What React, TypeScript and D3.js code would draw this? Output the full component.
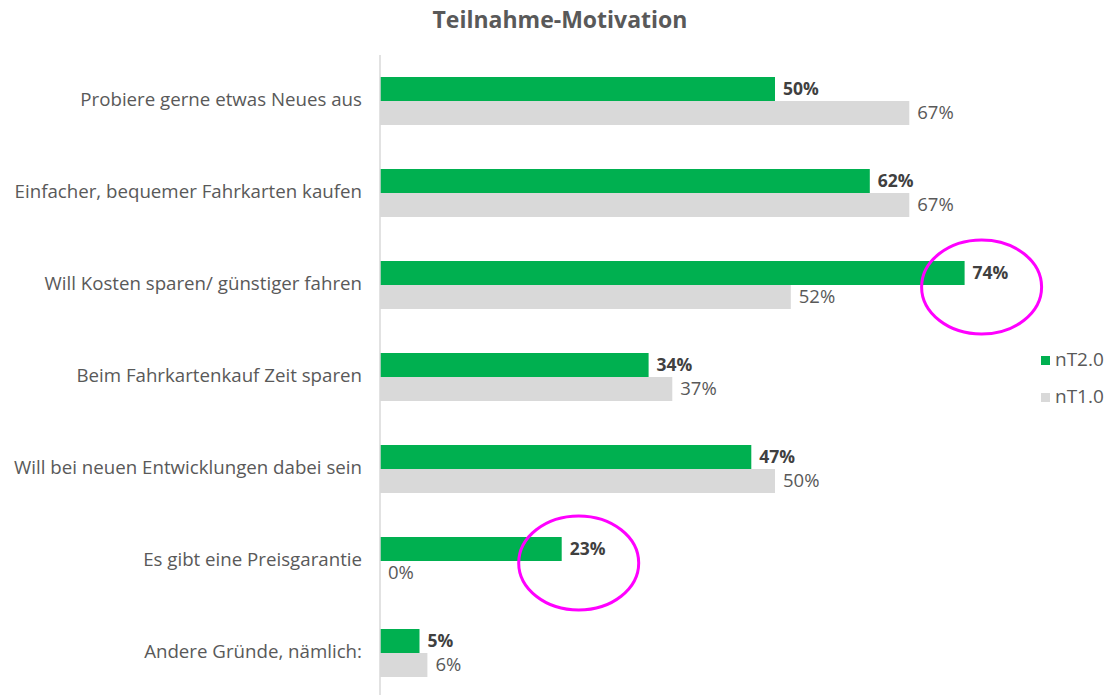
import React from "react";
import * as d3 from "d3";

const categories = [
  "Probiere gerne etwas Neues aus",
  "Einfacher, bequemer Fahrkarten kaufen",
  "Will Kosten sparen/ günstiger fahren",
  "Beim Fahrkartenkauf Zeit sparen",
  "Will bei neuen Entwicklungen dabei sein",
  "Es gibt eine Preisgarantie",
  "Andere Gründe, nämlich:",
];
const nT20 = [0.5, 0.62, 0.74, 0.34, 0.47, 0.23, 0.05];
const nT10 = [0.67, 0.67, 0.52, 0.37, 0.5, 0.0, 0.06];
const seriesNames = ["nT2.0", "nT1.0"];
const highlighted = [2, 5];

const W = 1115;
const H = 695;
const FONT = "'Open Sans', Lato, sans-serif";

export default function App() {
  const x = d3.scaleLinear().domain([0, 1]).range([380, 1170]);
  const y = d3.scaleBand<string>().domain(categories).range([55, 699]).paddingInner(0).paddingOuter(0);
  const inner = d3.scaleBand<string>().domain(seriesNames).range([0, y.bandwidth()]).paddingInner(0).paddingOuter(0.917);
  const colors = ["#00b050", "#d9d9d9"];
  const data = [nT20, nT10];
  const fmt = d3.format(".0%");

  return (
    <svg width={W} height={H} style={{ position: "absolute", left: 0, top: 0 }}>
      <rect width={W} height={H} fill="#fff" />
      <text x={560} y={28} textAnchor="middle" fontFamily={FONT} fontWeight="bold" fontSize={23} fill="#595959">
        Teilnahme-Motivation
      </text>
      {categories.map((c) => (
        <text key={c} x={362} y={(y(c) ?? 0) + y.bandwidth() / 2} textAnchor="end" dominantBaseline="middle"
          fontFamily={FONT} fontSize={18.7} fill="#595959">
          {c}
        </text>
      ))}
      {data.map((vals, si) =>
        vals.map((v, i) => {
          const c = categories[i];
          const yy = (y(c) ?? 0) + (inner(seriesNames[si]) ?? 0);
          const h = inner.bandwidth();
          return (
            <g key={si + "-" + i}>
              <rect x={x(0)} y={yy} width={x(v) - x(0)} height={h} fill={colors[si]} />
              <text x={x(v) + 8} y={yy + h / 2 + 1.5} dominantBaseline="middle" fontFamily={FONT}
                fontSize={si === 0 ? 17.5 : 18.5} fontWeight={si === 0 ? "bold" : "normal"} fill={si === 0 ? "#404040" : "#595959"}>
                {fmt(v)}
              </text>
            </g>
          );
        })
      )}
      <line x1={380} x2={380} y1={55} y2={H} stroke="#d9d9d9" strokeWidth={1.5} />
      {highlighted.map((i) => {
        const c = categories[i];
        const cx = x(nT20[i]) + 17;
        const cy = (y(c) ?? 0) + y.bandwidth() / 2 + 2;
        return <ellipse key={i} cx={cx} cy={cy} rx={60} ry={47} fill="none" stroke="#ff00ff" strokeWidth={3} />;
      })}
      {seriesNames.map((s, si) => (
        <g key={s} transform={`translate(1041, ${356 + si * 37})`}>
          <rect x={0} y={0} width={9} height={9} fill={colors[si]} />
          <text x={14} y={5} dominantBaseline="middle" fontFamily={FONT} fontSize={19} fill="#595959">{s}</text>
        </g>
      ))}
    </svg>
  );
}
